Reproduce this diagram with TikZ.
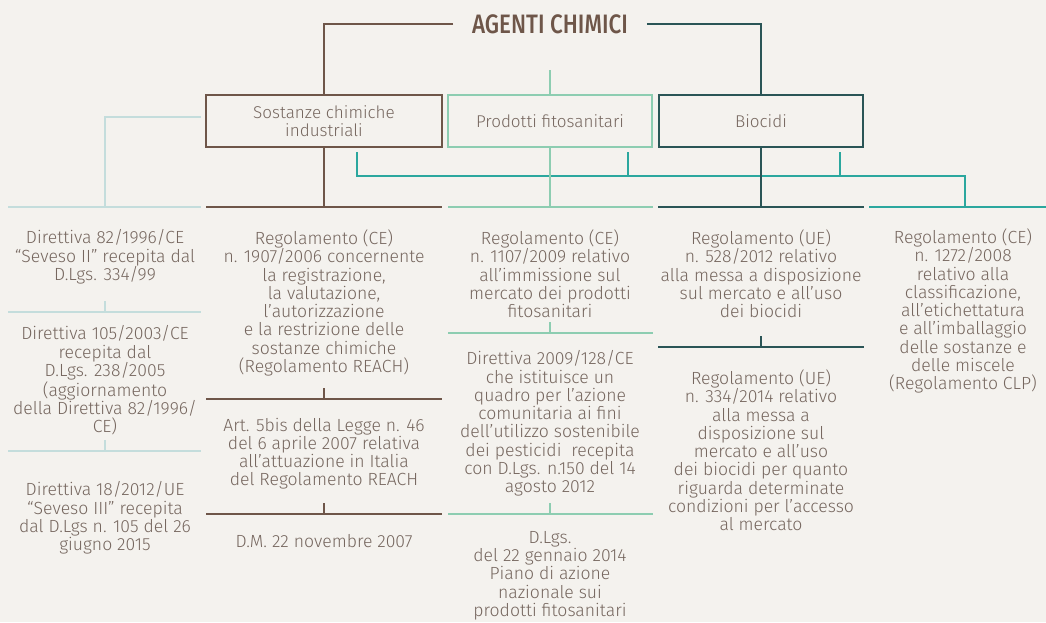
\documentclass[tikz,border=0pt]{standalone}
\usepackage{fontspec}
\setmainfont{Fira Sans Light}
\newfontfamily\titolofont{Fira Sans Medium}[FakeStretch=0.84]
\usetikzlibrary{positioning}

\definecolor{sfondo}{HTML}{F4F2EE}
\definecolor{marrone}{HTML}{6E5649}
\definecolor{menta}{HTML}{8DCDB1}
\definecolor{petrolio}{HTML}{2A5556}
\definecolor{turchese}{HTML}{2BA79E}
\definecolor{celeste}{HTML}{C4DDDC}
\definecolor{testo}{HTML}{76675F}

\begin{document}
\begin{tikzpicture}[x=0.75pt, y=-0.75pt,
    lineaMar/.style = {draw=marrone, line width=1.5pt},
    lineaMen/.style = {draw=menta, line width=1.5pt},
    lineaPet/.style = {draw=petrolio, line width=1.5pt},
    lineaTur/.style = {draw=turchese, line width=1.5pt},
    lineaCel/.style = {draw=celeste, line width=1.5pt},
    scatola/.style  = {line width=1.5pt, fill=sfondo, align=center, text=testo,
                       minimum height=39pt, inner sep=0pt, font=\fontsize{12.8}{13.7}\selectfont},
    voce/.style     = {align=center, anchor=north, inner sep=0pt, text=testo,
                       font=\fontsize{13.2}{13.7}\selectfont},
    titolo/.style   = {text=marrone, minimum width=145pt, inner sep=0pt,
                       font=\titolofont\fontsize{20}{22}\selectfont},
]

% --- Sfondo ---
\fill[sfondo] (0,0) rectangle (1046,622);
\useasboundingbox (0,0) rectangle (1046,622);

% --- Titolo e categorie ---
\node[titolo] (agenti) at (550,24) {AGENTI CHIMICI};
\node[scatola, draw=marrone, minimum width=177pt] (sost) at (324,121) {Sostanze chimiche\\industriali};
\node[scatola, draw=menta, minimum width=153pt]   (prod) at (550,121) {Prodotti fitosanitari};
\node[scatola, draw=petrolio, minimum width=153pt] (bioc) at (761,121) {Biocidi};

% --- Punti di aggancio ---
\coordinate (mStub) at (550,70);
\coordinate (celA)  at (201,117);
\coordinate (c1) at (105,207);
\coordinate (c2) at (324,207);
\coordinate (c3) at (550,207);
\coordinate (c4) at (761,207);
\coordinate (c5) at (965,207);
\coordinate (tS)  at (357,152);
\coordinate (tP)  at (628,152);
\coordinate (tB)  at (840,152);
\coordinate (bus) at (965,176);

% --- Collegamenti ---
\draw[lineaMar] (agenti.west) -| (sost.north);
\draw[lineaPet] (agenti.east) -| (bioc.north);
\draw[lineaMen] (mStub) -- (prod.north);
\draw[lineaCel] (celA) -| (c1);
\draw[lineaTur] (tS) |- (bus) -- (c5);
\draw[lineaTur] (tP) -- (tP |- bus);
\draw[lineaTur] (tB) -- (tB |- bus);
\draw[lineaMar] (sost.south) -- (c2);
\draw[lineaMen] (prod.south) -- (c3);
\draw[lineaPet] (bioc.south) -- (c4);

% --- Linee di testa delle colonne ---
\draw[lineaCel] (8,207)   -- (201,207);
\draw[lineaMar] (206,207) -- (442,207);
\draw[lineaMen] (448,207) -- (653,207);
\draw[lineaPet] (658,207) -- (864,207);
\draw[lineaTur] (869,207) -- (1046,207);

% --- Separatori ---
\draw[lineaCel] (8,312)   -- (201,312) (105,312) -- (105,301);
\draw[lineaCel] (8,451)   -- (201,451) (105,451) -- (105,440);
\draw[lineaMar] (206,399) -- (442,399) (324,399) -- (324,388);
\draw[lineaMar] (206,514) -- (442,514) (324,514) -- (324,503);
\draw[lineaMen] (448,333) -- (653,333) (550,333) -- (550,322);
\draw[lineaMen] (448,514) -- (653,514) (550,514) -- (550,503);
\draw[lineaPet] (658,347) -- (864,347) (761,347) -- (761,336);

% --- Norme ---
\node[voce] (n1a) at (105,229.5) {Direttiva 82/1996/CE\\“Seveso II” recepita dal\\D.Lgs. 334/99};
\node[voce] (n1b) at (105,325.5) {Direttiva 105/2003/CE\\recepita dal\\D.Lgs. 238/2005\\(aggiornamento\\della Direttiva 82/1996/\\CE)};
\node[voce] (n1c) at (105,481.5) {Direttiva 18/2012/UE\\“Seveso III” recepita\\dal D.Lgs n. 105 del 26\\giugno 2015};
\node[voce] (n2a) at (324,229.5) {Regolamento (CE)\\n. 1907/2006 concernente\\la registrazione,\\la valutazione,\\l’autorizzazione\\e la restrizione delle\\sostanze chimiche\\(Regolamento REACH)};
\node[voce] (n2b) at (324,417.5) {Art. 5bis della Legge n. 46\\del 6 aprile 2007 relativa\\all’attuazione in Italia\\del Regolamento REACH};
\node[voce] (n2c) at (324,534.5) {D.M. 22 novembre 2007};
\node[voce] (n3a) at (550,229.5) {Regolamento (CE)\\n. 1107/2009 relativo\\all’immissione sul\\mercato dei prodotti\\fitosanitari};
\node[voce] (n3b) at (550,350.5) {Direttiva 2009/128/CE\\che istituisce un\\quadro per l’azione\\comunitaria ai fini\\dell’utilizzo sostenibile\\dei pesticidi~ recepita\\con D.Lgs. n.150 del 14\\agosto 2012};
\node[voce] (n3c) at (550,531) {D.Lgs.\\del 22 gennaio 2014\\Piano di azione\\nazionale sui\\prodotti fitosanitari};
\node[voce] (n4a) at (761,229.5) {Regolamento (UE)\\n. 528/2012 relativo\\alla messa a disposizione\\sul mercato e all’uso\\dei biocidi};
\node[voce] (n4b) at (761,369.5) {Regolamento (UE)\\n. 334/2014 relativo\\alla messa a\\disposizione sul\\mercato e all’uso\\dei biocidi per quanto\\riguarda determinate\\condizioni per l’accesso\\al mercato};
\node[voce] (n5a) at (963,228.5) {Regolamento (CE)\\n. 1272/2008\\relativo alla\\classificazione,\\all’etichettatura\\e all’imballaggio\\delle sostanze e\\delle miscele\\(Regolamento CLP)};

\end{tikzpicture}
\end{document}
